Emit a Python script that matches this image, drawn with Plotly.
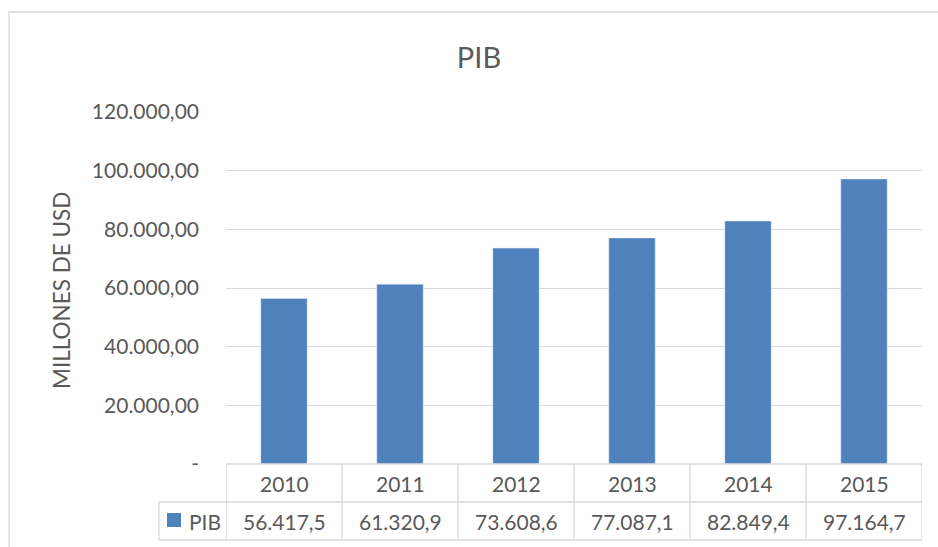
import plotly.graph_objects as go

years = ["2010", "2011", "2012", "2013", "2014", "2015"]
pib = [56417.5, 61320.9, 73608.6, 77087.1, 82849.4, 97164.7]
tick_values = [0, 20000, 40000, 60000, 80000, 100000, 120000]
series_name = "PIB"
axis_title = "MILLONES DE USD"


def es_num(v, dec):
    # 1,234.5 -> 1.234,5
    s = f"{v:,.{dec}f}"
    return s.replace(",", "#").replace(".", ",").replace("#", ".")


tick_text = ["-" if v == 0 else es_num(v, 2) for v in tick_values]

W, H = 938, 547
L, R, T, B = 226, 16, 112, 83
PW, PH = W - L - R, H - T - B

def py(px):
    # pixel row -> paper y
    return (H - B - px) / PH

def pxx(px):
    return (px - L) / PW

grid = "#d9d9d9"
txt = "#595959"
FONT = "Lato"

fig = go.Figure()
fig.add_trace(go.Bar(x=years, y=pib, name=series_name, marker_color="#4f81bd"))

shapes = []
n = len(years)
row1, row2, row3 = py(464), py(502), py(540)
# table grid
shapes.append(dict(type="line", xref="x", yref="paper", x0=-0.5, x1=n - 0.5, y0=row1, y1=row1))
for y in (row2, row3):
    shapes.append(dict(type="line", xref="paper", yref="paper", x0=pxx(159), x1=1, y0=y, y1=y))
for i in range(n + 1):
    shapes.append(dict(type="line", xref="x", yref="paper", x0=i - 0.5, x1=i - 0.5, y0=row1, y1=row3))
shapes.append(dict(type="line", xref="paper", yref="paper", x0=pxx(159), x1=pxx(159), y0=row2, y1=row3))
for s in shapes:
    s["line"] = dict(color=grid, width=1.3)
# legend key
shapes.append(dict(type="rect", xref="paper", yref="paper", x0=pxx(167), x1=pxx(181),
                   y0=py(527), y1=py(513), fillcolor="#4f81bd", line=dict(width=0)))
# chart border
shapes.append(dict(type="rect", xref="paper", yref="paper", x0=pxx(9), x1=pxx(960),
                   y0=py(560), y1=py(12), line=dict(color=grid, width=1.3)))

ann = []
for i, (yr, v) in enumerate(zip(years, pib)):
    ann.append(dict(x=i, xref="x", y=(row1 + row2) / 2, yref="paper", text=yr,
                    showarrow=False, yanchor="middle"))
    ann.append(dict(x=i, xref="x", y=(row2 + row3) / 2, yref="paper", text=es_num(v, 1),
                    showarrow=False, yanchor="middle"))
ann.append(dict(x=pxx(187), xref="paper", y=(row2 + row3) / 2, yref="paper", text=series_name,
                showarrow=False, xanchor="left", yanchor="middle"))
ann.append(dict(x=pxx(61), xref="paper", y=py(291), yref="paper", text=axis_title, textangle=-90,
                showarrow=False, xanchor="center", yanchor="middle", font=dict(size=22.5)))

fig.update_layout(
    width=W, height=H,
    margin=dict(l=L, r=R, t=T, b=B),
    paper_bgcolor="white", plot_bgcolor="white",
    font=dict(family=FONT, size=21, color=txt),
    title=dict(text="PIB", x=479 / W, xanchor="center", y=1 - 58 / H, yanchor="middle",
               font=dict(size=29, color=txt)),
    showlegend=False,
    bargap=0.6,
    shapes=shapes,
    annotations=ann,
)
fig.update_xaxes(type="category", showticklabels=False, showgrid=False, showline=False,
                 range=[-0.5, n - 0.5])
fig.update_yaxes(range=[0, 120000], tickvals=tick_values, ticktext=tick_text,
                 showgrid=True, gridcolor=grid, gridwidth=1.3, zeroline=False,
                 showline=False, ticks="", ticklabelstandoff=26)

fig.write_html("out.html", config={"displayModeBar": False},
               post_script="document.body.style.margin='0';")
